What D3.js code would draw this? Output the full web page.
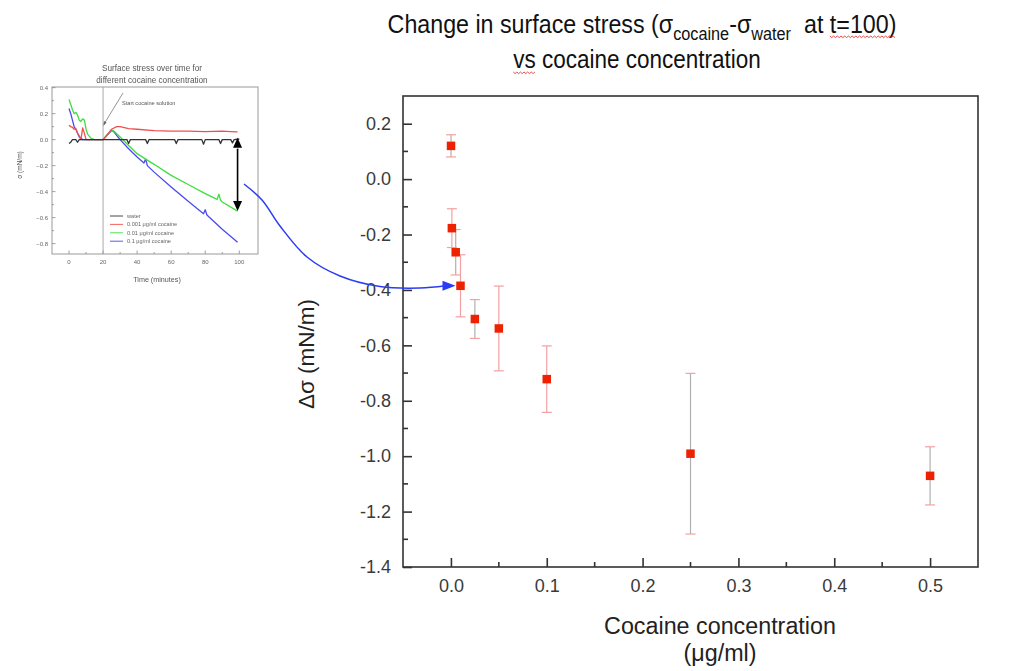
<!DOCTYPE html>
<html>
<head>
<meta charset="utf-8">
<script src="https://cdn.jsdelivr.net/npm/d3@7/dist/d3.min.js"></script>
<style>
  html, body { margin: 0; padding: 0; background: #fff; }
  svg { display: block; font-family: "Liberation Sans", Arial, Helvetica, sans-serif; }
</style>
</head>
<body>
<svg id="fig" width="1018" height="671"></svg>
<script>
// ---- Main plot: change in surface stress at t = 100 min ----
const concentration = [0.0001, 0.001, 0.005, 0.01, 0.025, 0.05, 0.1, 0.25, 0.5];   // µg/ml
const deltaSigma    = [0.12, -0.177, -0.264, -0.385, -0.505, -0.539, -0.722, -0.991, -1.071]; // mN/m
const deltaErr      = [0.04, 0.07, 0.082, 0.112, 0.07, 0.153, 0.12, 0.29, 0.105];
const errTone       = ["grey", "red", "grey", "red", "grey", "red", "red", "grey", "grey"];
const xTickLabels   = ["0.0", "0.1", "0.2", "0.3", "0.4", "0.5"];
const yTickLabels   = ["-1.4", "-1.2", "-1.0", "-0.8", "-0.6", "-0.4", "-0.2", "0.0", "0.2"];

// ---- Inset: surface stress over time (minutes, mN/m) ----
const waterT  = [0, 1, 2, 4, 5, 6, 10, 15, 20, 25, 30, 34, 35, 36, 45, 46, 47, 55, 62, 63, 64, 70, 78, 79, 80, 88, 89, 90, 95, 96, 97, 100];
const waterS  = [-0.03, -0.02, 0, 0, -0.02, 0, 0, 0, 0, 0, 0, 0, -0.03, 0, 0, -0.03, 0, 0, 0, -0.03, 0, 0, 0, -0.035, 0, 0, -0.03, 0, 0, -0.025, 0, 0.005];
const c0001T  = [0, 1, 2, 3, 4, 5, 6, 7, 8, 9, 10, 12, 15, 18, 20, 22, 25, 28, 30, 35, 40, 50, 60, 70, 80, 90, 95, 99];
const c0001S  = [0.11, 0.1, 0.095, 0.08, 0.085, 0.05, 0.03, 0, 0.09, 0.05, 0, 0, 0, 0, 0, 0.03, 0.08, 0.1, 0.1, 0.085, 0.08, 0.07, 0.065, 0.065, 0.062, 0.065, 0.062, 0.06];
const c001T   = [0, 1, 2, 3, 4, 5, 6, 7, 8, 9, 10, 11, 13, 15, 20, 22, 25, 26, 30, 35, 40, 45, 50, 60, 70, 80, 87, 88, 89, 90, 99];
const c001S   = [0.31, 0.27, 0.23, 0.2, 0.21, 0.19, 0.15, 0.14, 0.16, 0.15, 0.08, 0.04, 0.01, 0, 0, 0.03, 0.075, 0.07, 0.02, -0.045, -0.108, -0.15, -0.19, -0.275, -0.345, -0.415, -0.46, -0.42, -0.465, -0.48, -0.55];
const c01T    = [0, 1, 2, 3, 4, 5, 6, 8, 15, 20, 22, 25, 26, 30, 35, 40, 44, 45, 46, 50, 60, 70, 79, 80, 81, 90, 99];
const c01S    = [0.24, 0.2, 0.15, 0.1, 0.08, 0.05, 0.02, 0, 0, 0, 0.03, 0.07, 0.065, 0, -0.07, -0.134, -0.18, -0.15, -0.2, -0.25, -0.364, -0.475, -0.57, -0.54, -0.58, -0.69, -0.79];
const insetSeries = [
  { name: "water",                 t: waterT, s: waterS, color: "#333333" },
  { name: "0.001 \u03bcg/ml cocaine", t: c0001T, s: c0001S, color: "#f05050" },
  { name: "0.01 \u03bcg/ml cocaine",  t: c001T,  s: c001S,  color: "#40dd40" },
  { name: "0.1 \u03bcg/ml cocaine",   t: c01T,   s: c01S,   color: "#4a4af0" }
];
const insetXTicks = [0, 20, 40, 60, 80, 100];
const insetYTicks = [-0.8, -0.6, -0.4, -0.2, 0.0, 0.2, 0.4];
const cocaineStart = 20;

const svg = d3.select("#fig");

// ================= Title =================
// red wavy spell-check underline
function squiggle(g, x0, x1, y) {
  const pts = [];
  for (let x = x0, k = 0; x <= x1; x += 2, k++) pts.push([x, y + (k % 2 ? 1.6 : 0)]);
  g.append("path").attr("d", d3.line()(pts))
    .attr("fill", "none").attr("stroke", "#e03030").attr("stroke-width", 0.9);
}
const tg1 = svg.append("g").attr("transform", "translate(642,0) scale(0.93,1)");
const title = tg1.append("text")
  .attr("x", 0).attr("y", 33)
  .attr("text-anchor", "middle")
  .attr("font-size", 25).attr("fill", "#111");
title.append("tspan").text("Change in surface stress (\u03c3");
title.append("tspan").attr("dy", 7).attr("font-size", 17.5).text("cocaine");
title.append("tspan").attr("dy", -7).text("-\u03c3");
title.append("tspan").attr("dy", 7).attr("font-size", 17.5).text("water");
title.append("tspan").attr("dy", -7).attr("dx", 14).text("at ");
const tSpan = title.append("tspan").text("t=100)");
const tg2 = svg.append("g").attr("transform", "translate(637,0) scale(0.9,1)");
const title2 = tg2.append("text")
  .attr("x", 0).attr("y", 68)
  .attr("text-anchor", "middle")
  .attr("font-size", 25).attr("fill", "#111");
const vsSpan = title2.append("tspan").text("vs");
title2.append("tspan").text(" cocaine concentration");
{
  const b1 = tSpan.node().getBBox();
  squiggle(tg1, b1.x, b1.x + b1.width, 36);
  const b2 = vsSpan.node().getBBox();
  squiggle(tg2, b2.x, b2.x + b2.width, 72);
}

// ================= Main chart =================
const M = { left: 403, right: 978, top: 96, bottom: 567 };
const x = d3.scaleLinear().domain([-0.05, 0.55]).range([M.left, M.right]);
const y = d3.scaleLinear().domain([-1.4, 0.3]).range([M.bottom, M.top]);
const axisColor = "#333";
const tickFont = 18;

const main = svg.append("g");

// frame
main.append("rect")
  .attr("x", M.left).attr("y", M.top)
  .attr("width", M.right - M.left).attr("height", M.bottom - M.top)
  .attr("fill", "none").attr("stroke", axisColor).attr("stroke-width", 1.6);

// x axis (ticks pointing inward)
const xMajor = xTickLabels.map(Number);
const xMinor = d3.range(0, 11).map(i => 0.05 + i * 0.1).filter(v => v < 0.55);
const xAxis = d3.axisBottom(x).tickValues(xMajor)
  .tickFormat((d, i) => xTickLabels[i]).tickSizeInner(-9).tickSizeOuter(0).tickPadding(12);
const gx = main.append("g").attr("transform", `translate(0,${M.bottom})`).call(xAxis);
gx.select(".domain").remove();
gx.selectAll(".tick line").attr("stroke", axisColor).attr("stroke-width", 1.6);
gx.selectAll(".tick text").attr("font-size", tickFont).attr("fill", "#3a3a3a")
  .attr("font-family", "Liberation Sans, Arial, sans-serif");
main.append("g").selectAll("line").data(xMinor).join("line")
  .attr("x1", d => x(d)).attr("x2", d => x(d))
  .attr("y1", M.bottom).attr("y2", M.bottom - 5)
  .attr("stroke", axisColor).attr("stroke-width", 1.6);

// y axis
const yMajor = yTickLabels.map(Number);
const yMinor = d3.range(0, 8).map(i => -1.3 + i * 0.2);
const yAxis = d3.axisLeft(y).tickValues(yMajor)
  .tickFormat((d, i) => yTickLabels[i]).tickSizeInner(-9).tickSizeOuter(0).tickPadding(12);
const gy = main.append("g").attr("transform", `translate(${M.left},0)`).call(yAxis);
gy.select(".domain").remove();
gy.selectAll(".tick line").attr("stroke", axisColor).attr("stroke-width", 1.6);
gy.selectAll(".tick text").attr("font-size", tickFont).attr("fill", "#3a3a3a")
  .attr("font-family", "Liberation Sans, Arial, sans-serif");
main.append("g").selectAll("line").data(yMinor).join("line")
  .attr("x1", M.left).attr("x2", M.left + 5)
  .attr("y1", d => y(d)).attr("y2", d => y(d))
  .attr("stroke", axisColor).attr("stroke-width", 1.6);

// axis titles
svg.append("text")
  .attr("transform", `translate(314,354) rotate(-90)`)
  .attr("text-anchor", "middle").attr("font-size", 22.5).attr("fill", "#222")
  .text("\u0394\u03c3 (mN/m)");
svg.append("text").attr("x", 720).attr("y", 634)
  .attr("text-anchor", "middle").attr("font-size", 23.3).attr("fill", "#222")
  .text("Cocaine concentration");
svg.append("text").attr("x", 720).attr("y", 661)
  .attr("text-anchor", "middle").attr("font-size", 23.3).attr("fill", "#222")
  .text("(\u03bcg/ml)");

// error bars and markers
const pts = concentration.map((c, i) => ({ c, v: deltaSigma[i], e: deltaErr[i], tone: errTone[i] }));
const toneColor = { red: "#f4a0a0", grey: "#b0b0b0" };
const eb = main.append("g").selectAll("g").data(pts).join("g");
eb.append("line")
  .attr("x1", d => x(d.c)).attr("x2", d => x(d.c))
  .attr("y1", d => y(d.v + d.e)).attr("y2", d => y(d.v - d.e))
  .attr("stroke", d => toneColor[d.tone]).attr("stroke-width", 1.2);
eb.selectAll(".cap").data(d => [[d.c, d.v + d.e], [d.c, d.v - d.e]]).join("line")
  .attr("class", "cap")
  .attr("x1", d => x(d[0]) - 5).attr("x2", d => x(d[0]) + 5)
  .attr("y1", d => y(d[1])).attr("y2", d => y(d[1]))
  .attr("stroke", "#f4a0a0").attr("stroke-width", 1.2);
main.append("g").selectAll("rect").data(pts).join("rect")
  .attr("x", d => x(d.c) - 4.25).attr("y", d => y(d.v) - 4.25)
  .attr("width", 8.5).attr("height", 8.5)
  .attr("fill", "#ee2200");

// ================= Inset chart =================
const I = { left: 52, right: 258, top: 87, bottom: 254 };
const ix = d3.scaleLinear().domain([-10, 111]).range([I.left, I.right]);
const iy = d3.scaleLinear().domain([-0.88, 0.405]).range([I.bottom, I.top]);

svg.append("defs").append("filter").attr("id", "soft")
  .append("feGaussianBlur").attr("stdDeviation", 0.45);
const inset = svg.append("g").attr("filter", "url(#soft)");

inset.append("text").attr("x", 152).attr("y", 71)
  .attr("text-anchor", "middle").attr("font-size", 8.2).attr("fill", "#555")
  .text("Surface stress over time for");
inset.append("text").attr("x", 152).attr("y", 83)
  .attr("text-anchor", "middle").attr("font-size", 8.2).attr("fill", "#555")
  .text("different cocaine concentration");

inset.append("rect")
  .attr("x", I.left).attr("y", I.top)
  .attr("width", I.right - I.left).attr("height", I.bottom - I.top)
  .attr("fill", "#fff").attr("stroke", "#9a9a9a").attr("stroke-width", 1);

// inset ticks
const ixAll = d3.range(0, 11).map(i => i * 10);
inset.append("g").selectAll("line").data(ixAll).join("line")
  .attr("x1", d => ix(d)).attr("x2", d => ix(d))
  .attr("y1", I.bottom).attr("y2", d => I.bottom - (d % 20 === 0 ? 3.5 : 2))
  .attr("stroke", "#8a8a8a").attr("stroke-width", 0.8);
const iyAll = d3.range(0, 13).map(i => -0.8 + i * 0.1);
inset.append("g").selectAll("line").data(iyAll).join("line")
  .attr("x1", I.left).attr("x2", (d, i) => I.left + (i % 2 === 0 ? 3.5 : 2))
  .attr("y1", d => iy(d)).attr("y2", d => iy(d))
  .attr("stroke", "#8a8a8a").attr("stroke-width", 0.8);
inset.append("g").selectAll("text").data(insetXTicks).join("text")
  .attr("x", d => ix(d)).attr("y", 264)
  .attr("text-anchor", "middle").attr("font-size", 6).attr("fill", "#666")
  .text(d => d);
inset.append("g").selectAll("text").data(insetYTicks).join("text")
  .attr("x", 48).attr("y", d => iy(d) + 2)
  .attr("text-anchor", "end").attr("font-size", 6).attr("fill", "#666")
  .text(d => d3.format(".1f")(d));
inset.append("text").attr("x", 157).attr("y", 282)
  .attr("text-anchor", "middle").attr("font-size", 7.2).attr("fill", "#555")
  .text("Time (minutes)");
inset.append("text")
  .attr("transform", `translate(22,165) rotate(-90)`)
  .attr("text-anchor", "middle").attr("font-size", 6.5).attr("fill", "#555")
  .text("\u03c3 (mN/m)");

// cocaine injection marker
inset.append("line")
  .attr("x1", ix(cocaineStart)).attr("x2", ix(cocaineStart))
  .attr("y1", I.top).attr("y2", I.bottom)
  .attr("stroke", "#a0a0a0").attr("stroke-width", 0.9);

// series
const iline = d3.line().x(d => ix(d[0])).y(d => iy(d[1]));
insetSeries.slice().reverse().forEach(s => {
  inset.append("path")
    .attr("d", iline(s.t.map((t, i) => [t, s.s[i]])))
    .attr("fill", "none").attr("stroke", s.color).attr("stroke-width", 1.3)
    .attr("stroke-linejoin", "round");
});

// legend
insetSeries.forEach((s, i) => {
  const ly = 216 + i * 8.4;
  inset.append("line").attr("x1", 110).attr("x2", 123).attr("y1", ly).attr("y2", ly)
    .attr("stroke", s.color).attr("stroke-width", 0.9);
  inset.append("text").attr("x", 127).attr("y", ly + 2)
    .attr("font-size", 5.6).attr("fill", "#666").text(s.name);
});

// "Start cocaine solution" annotation
inset.append("text").attr("x", 122).attr("y", 105)
  .attr("font-size", 5.6).attr("fill", "#555").text("Start cocaine solution");
inset.append("line")
  .attr("x1", 123).attr("y1", 93).attr("x2", ix(cocaineStart) + 1).attr("y2", 124)
  .attr("stroke", "#666").attr("stroke-width", 0.7);
inset.append("path")
  .attr("d", `M${ix(cocaineStart) + 0.3},126 l0.6,-5 l2.6,1.5 Z`)
  .attr("fill", "#666");

// double arrow: difference at t = 100
const tEnd = 99;
const yTop = iy(0), yBot = iy(c001S[c001S.length - 1]);
const ax = ix(tEnd);
svg.append("line").attr("x1", ax).attr("x2", ax)
  .attr("y1", yTop + 9).attr("y2", yBot - 9)
  .attr("stroke", "#000").attr("stroke-width", 1.6);
svg.append("path").attr("d", `M${ax},${yTop - 2} l-4.5,10 l9,0 Z`).attr("fill", "#000");
svg.append("path").attr("d", `M${ax},${yBot} l-4.5,-10 l9,0 Z`).attr("fill", "#000");

// curved blue arrow linking the inset to the main plot
const target = [x(concentration[3]) - 5, y(deltaSigma[3])];
const arrowPts = [[244, 184], [262, 200], [280, 226], [307, 257], [340, 276], [380, 286.5], [420, 288]];
svg.append("path")
  .attr("d", d3.line().curve(d3.curveCatmullRom)(arrowPts.concat([[target[0] - 10, target[1]]])))
  .attr("fill", "none").attr("stroke", "#2a3cf5").attr("stroke-width", 1.5);
svg.append("path")
  .attr("d", `M${target[0]},${target[1]} l-13,-5 l0,10 Z`)
  .attr("fill", "#2a3cf5");
</script>
</body>
</html>
